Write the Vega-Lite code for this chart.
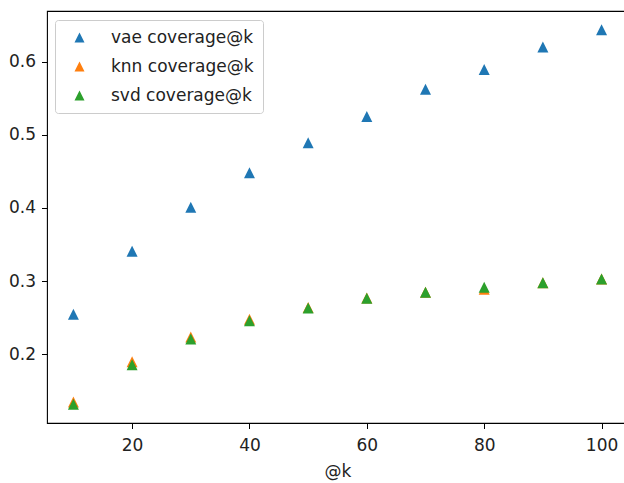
{
  "$schema": "https://vega.github.io/schema/vega-lite/v6.json",
  "autosize": {"type": "none"},
  "padding": {"left": 47, "top": 11, "right": 0, "bottom": 60},
  "width": 581,
  "height": 412,
  "background": "white",
  "config": {
    "font": "DejaVu Sans",
    "view": {"stroke": "#000000", "strokeWidth": 1.1},
    "axis": {
      "grid": false,
      "domain": false,
      "tickColor": "#000000",
      "tickSize": 5.5,
      "tickWidth": 1,
      "labelColor": "#222222",
      "labelFontSize": 17,
      "labelPadding": 6,
      "titleFont": "DejaVu Sans",
      "titleFontSize": 17,
      "titleFontWeight": "normal",
      "titleColor": "#222222"
    }
  },
  "data": {
    "values": [
      {"k": 10, "coverage": 0.255, "series": "vae coverage@k"},
      {"k": 20, "coverage": 0.341, "series": "vae coverage@k"},
      {"k": 30, "coverage": 0.401, "series": "vae coverage@k"},
      {"k": 40, "coverage": 0.448, "series": "vae coverage@k"},
      {"k": 50, "coverage": 0.489, "series": "vae coverage@k"},
      {"k": 60, "coverage": 0.525, "series": "vae coverage@k"},
      {"k": 70, "coverage": 0.562, "series": "vae coverage@k"},
      {"k": 80, "coverage": 0.589, "series": "vae coverage@k"},
      {"k": 90, "coverage": 0.620, "series": "vae coverage@k"},
      {"k": 100, "coverage": 0.6435, "series": "vae coverage@k"},
      {"k": 10, "coverage": 0.135, "series": "knn coverage@k"},
      {"k": 20, "coverage": 0.190, "series": "knn coverage@k"},
      {"k": 30, "coverage": 0.224, "series": "knn coverage@k"},
      {"k": 40, "coverage": 0.248, "series": "knn coverage@k"},
      {"k": 50, "coverage": 0.264, "series": "knn coverage@k"},
      {"k": 60, "coverage": 0.277, "series": "knn coverage@k"},
      {"k": 70, "coverage": 0.285, "series": "knn coverage@k"},
      {"k": 80, "coverage": 0.289, "series": "knn coverage@k"},
      {"k": 90, "coverage": 0.298, "series": "knn coverage@k"},
      {"k": 100, "coverage": 0.303, "series": "knn coverage@k"},
      {"k": 10, "coverage": 0.132, "series": "svd coverage@k"},
      {"k": 20, "coverage": 0.186, "series": "svd coverage@k"},
      {"k": 30, "coverage": 0.221, "series": "svd coverage@k"},
      {"k": 40, "coverage": 0.246, "series": "svd coverage@k"},
      {"k": 50, "coverage": 0.2635, "series": "svd coverage@k"},
      {"k": 60, "coverage": 0.2767, "series": "svd coverage@k"},
      {"k": 70, "coverage": 0.285, "series": "svd coverage@k"},
      {"k": 80, "coverage": 0.2917, "series": "svd coverage@k"},
      {"k": 90, "coverage": 0.298, "series": "svd coverage@k"},
      {"k": 100, "coverage": 0.303, "series": "svd coverage@k"}
    ]
  },
  "mark": {"type": "point", "filled": true, "shape": "M0,-1L1,1L-1,1Z", "size": 121, "opacity": 1},
  "encoding": {
    "x": {
      "field": "k",
      "type": "quantitative",
      "scale": {"domain": [5.5, 104.5], "nice": false, "zero": false},
      "axis": {"title": "@k", "values": [20, 40, 60, 80, 100], "labelPadding": 9, "titlePadding": 10}
    },
    "y": {
      "field": "coverage",
      "type": "quantitative",
      "scale": {"domain": [0.1064, 0.669], "nice": false, "zero": false},
      "axis": {"title": null, "values": [0.2, 0.3, 0.4, 0.5, 0.6], "format": ".1f"}
    },
    "color": {
      "field": "series",
      "type": "nominal",
      "sort": null,
      "scale": {
        "domain": ["vae coverage@k", "knn coverage@k", "svd coverage@k"],
        "range": ["#1f77b4", "#ff7f0e", "#2ca02c"]
      },
      "legend": {
        "title": null,
        "orient": "none",
        "legendX": 8,
        "legendY": 9,
        "padding": 9,
        "fillColor": "rgba(255,255,255,0.8)",
        "strokeColor": "#cccccc",
        "cornerRadius": 3,
        "symbolType": "M0,-1L1,1L-1,1Z",
        "symbolSize": 100,
        "symbolOffset": 7,
        "labelOffset": 23,
        "labelFontSize": 17,
        "labelColor": "#222222",
        "rowPadding": 11
      }
    }
  }
}
